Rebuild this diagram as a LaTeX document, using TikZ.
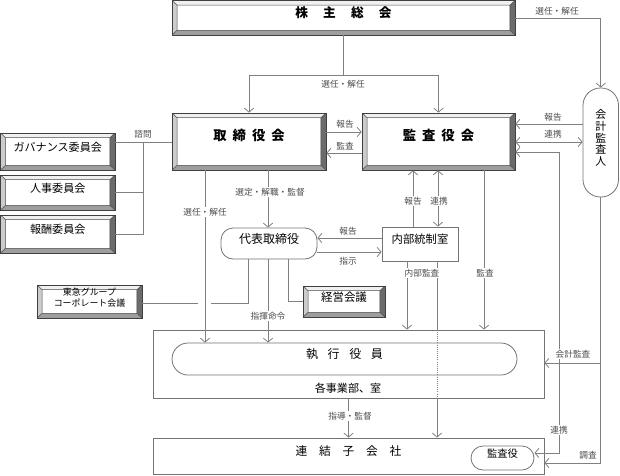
\documentclass[tikz,border=0pt]{standalone}
\usepackage{fontspec}
\setmainfont{Noto Sans CJK JP}
\usetikzlibrary{arrows.meta,fit,calc}
\begin{document}
\begin{tikzpicture}[x=0.75pt,y=-0.75pt,
  conn/.style={draw=black!50, line width=0.6pt},
  arr/.style={conn, -{Straight Barb[length=3pt,width=7pt]}},
  darr/.style={conn, {Straight Barb[length=3pt,width=7pt]}-{Straight Barb[length=3pt,width=7pt]}},
  lbl/.style={font=\fontsize{6.5}{7.5}\selectfont, text=black!70, fill=white, inner sep=1pt},
  plainbox/.style={draw=black!55, line width=0.6pt, fill=white, inner sep=0pt},
  bevel/.style={draw=black!75, line width=0.5pt, fill=white, inner sep=0pt,
    path picture={
      \coordinate (NW) at (path picture bounding box.north west);
      \coordinate (NE) at (path picture bounding box.north east);
      \coordinate (SW) at (path picture bounding box.south west);
      \coordinate (SE) at (path picture bounding box.south east);
      \coordinate (nw) at ([xshift=3.8pt,yshift=-3.5pt]NW);
      \coordinate (ne) at ([xshift=-3.8pt,yshift=-3.5pt]NE);
      \coordinate (sw) at ([xshift=3.8pt,yshift=3.5pt]SW);
      \coordinate (se) at ([xshift=-3.8pt,yshift=3.5pt]SE);
      \fill[black!6] (NW)--(NE)--(ne)--(nw)--cycle;
      \fill[black!20] (NW)--(SW)--(sw)--(nw)--cycle;
      \fill[black!38] (SW)--(SE)--(se)--(sw)--cycle;
      \fill[black!58] (NE)--(SE)--(se)--(ne)--cycle;
      \draw[black!70,line width=0.4pt] (NW)--(nw) (NE)--(ne) (SW)--(sw) (SE)--(se) (nw) rectangle (se);
    }},
  big/.style={font=\fontsize{10}{11}\selectfont\bfseries},
]
\useasboundingbox (0,0) rectangle (620,475);

% helper levels
\coordinate (y124) at (0,124);
\coordinate (y132) at (0,132);
\coordinate (y142) at (0,142);
\coordinate (y152) at (0,152);
\coordinate (y153) at (0,153);
\coordinate (y238) at (0,238);
\coordinate (y252) at (0,252);
\coordinate (y303) at (0,303);
\coordinate (y363) at (0,363);
\coordinate (y453) at (0,453);
\coordinate (y463) at (0,463);
\coordinate (x143) at (143,0);
\coordinate (x198) at (198,0);
\coordinate (x205) at (205,0);
\coordinate (x211) at (211,0);
\coordinate (x248) at (248,0);
\coordinate (x268) at (268,0);
\coordinate (x288) at (288,0);
\coordinate (x407) at (407,0);
\coordinate (x413) at (413,0);
\coordinate (x437) at (437,0);
\coordinate (x438) at (438,0);
\coordinate (x484) at (484,0);
\coordinate (x559) at (559,0);

% nodes
\node[bevel, fit={(172,0.5)(515,35)}, font=\fontsize{9.5}{10}\selectfont\bfseries] (sh)
  {株\hspace{1.2em}主\hspace{1.2em}総\hspace{1.2em}会};
\node[bevel, big, fit={(172,113)(326,170)}] (tb)
  {取\hspace{0.45em}締\hspace{0.45em}役\hspace{0.45em}会};
\node[bevel, big, fit={(362,113)(515,170)}] (ka)
  {監\hspace{0.45em}査\hspace{0.45em}役\hspace{0.45em}会};
\node[plainbox, rounded corners=13pt, fit={(583,88)(618.5,197)}, align=center,
  font=\fontsize{8.2}{8.8}\selectfont] (kk) {会\\計\\監\\査\\人};

\node[bevel, fit={(0.5,133)(115,170)}, font=\fontsize{8.3}{9}\selectfont] (gov) {ガバナンス委員会};
\node[bevel, fit={(0.5,175)(115,210)}, font=\fontsize{8.3}{9}\selectfont] (jin) {人事委員会};
\node[bevel, fit={(0.5,215)(115,253)}, font=\fontsize{8.3}{9}\selectfont] (hou) {報酬委員会};

\node[plainbox, rounded corners=9pt, fit={(221,228)(317,259)}, font=\fontsize{9}{10}\selectfont] (dh) {代表取締役};
\node[plainbox, fit={(382,227)(458,261)}, font=\fontsize{8.5}{9}\selectfont] (nai) {内部統制室};
\node[bevel, fit={(303,286)(385,317)}, font=\fontsize{8.6}{9}\selectfont] (kei) {経営会議};
\node[bevel, fit={(37,285)(142,318)}, align=center, font=\fontsize{6.7}{8}\selectfont] (tok)
  {東急グループ\\コーポレート会議};

\node[plainbox, fit={(153,330)(544,398)}] (out) {};
\node[plainbox, rounded corners=12pt, fit={(172,343)(517,375)}, font=\fontsize{9}{10}\selectfont] (shi)
  {執\hspace{0.8em}行\hspace{0.8em}役\hspace{0.8em}員};
\node[font=\fontsize{8.3}{9}\selectfont, inner sep=0pt] (kaku) at (348,388) {各事業部、室};
\node[plainbox, fit={(153,438)(544,474)}, font=\fontsize{8.8}{10}\selectfont] (ren)
  {連\hspace{1em}結\hspace{1em}子\hspace{1em}会\hspace{1em}社};
\node[plainbox, rounded corners=9pt, fit={(471,446)(534,470)}, font=\fontsize{7.7}{8}\selectfont] (kan) {監査役};

% connectors
\draw[arr] (sh.south) -- ++(0,40) -| (tb.north);
\draw[arr] (sh.south) -- ++(0,40) -| (ka.north);
\draw[arr] ($(sh.north east)+(0,18)$) -| (kk.north);

\draw[arr] (tb.east |- y132) -- (ka.west |- y132);
\draw[arr] (ka.west |- y153) -- (tb.east |- y153);

\draw[arr] (kk.west |- y124) -- (ka.east |- y124);
\draw[darr] (ka.east |- y142) -- (kk.west |- y142);
\draw[darr] (ka.east |- y152) -| (x559 |- y453) -- (kan.east |- y453);

\draw[arr] (kk.south) |- (ren.east |- y463);
\draw[arr] (kk.south |- y363) -- (out.east |- y363);

\draw[arr] (tb.south -| x205) -- (shi.north -| x205);
\draw[arr] (tb.south -| x268) -- (dh.north -| x268);

\draw[conn] (tb.west |- y142) -- (gov.east |- y142);
\draw[conn] (x143 |- y142) |- (hou.east);
\draw[conn] (x143 |- jin.east) -- (jin.east);

\draw[arr] (nai.north -| x413) -- (ka.south -| x413);
\draw[darr] (ka.south -| x438) -- (nai.north -| x438);

\draw[arr] (nai.west |- y238) -- (dh.east |- y238);
\draw[arr] (dh.east |- y252) -- (nai.west |- y252);

\draw[conn] (dh.south -| x248) |- (x211 |- y303);
\draw[conn] (x198 |- y303) -- (tok.east |- y303);
\draw[arr] (dh.south -| x268) -- (shi.north -| x268);
\draw[conn] (dh.south -| x288) |- (kei.west);

\draw[arr] (nai.south -| x407) -- (out.north -| x407);
\draw[conn] (nai.south -| x437) -- (out.north -| x437);
\draw[conn, densely dotted] (out.north -| x437) -- (out.south -| x437);
\draw[arr] (out.south -| x437) -- (ren.north -| x437);
\draw[arr] (ka.south -| x484) -- (out.north -| x484);
\draw[arr] (out.south) -- (ren.north);

% labels
\node[lbl] (l1) at (343,84) {選任・解任};
\node[lbl] (l2) at (557,11) {選任・解任};
\node[lbl] (l3) at (345,124) {報告};
\node[lbl] (l4) at (345,146) {監査};
\node[lbl] (l5) at (553,117) {報告};
\node[lbl] (l6) at (553,134) {連携};
\node[lbl] (l7) at (143,134) {諮問};
\node[lbl] (l8) at (270,192) {選定・解職・監督};
\node[lbl] (l9) at (205,212) {選任・解任};
\node[lbl] (l10) at (413,201) {報告};
\node[lbl] (l11) at (439,201) {連携};
\node[lbl] (l12) at (348,231) {報告};
\node[lbl] (l13) at (348,261) {指示};
\node[lbl] (l14) at (422,273) {内部監査};
\node[lbl] (l15) at (485,273) {監査};
\node[lbl] (l16) at (268,316) {指揮命令};
\node[lbl] (l17) at (573,354) {会計監査};
\node[lbl] (l18) at (350,416) {指導・監督};
\node[lbl] (l19) at (559,430) {連携};
\node[lbl] (l20) at (588,455) {調査};
\end{tikzpicture}
\end{document}
